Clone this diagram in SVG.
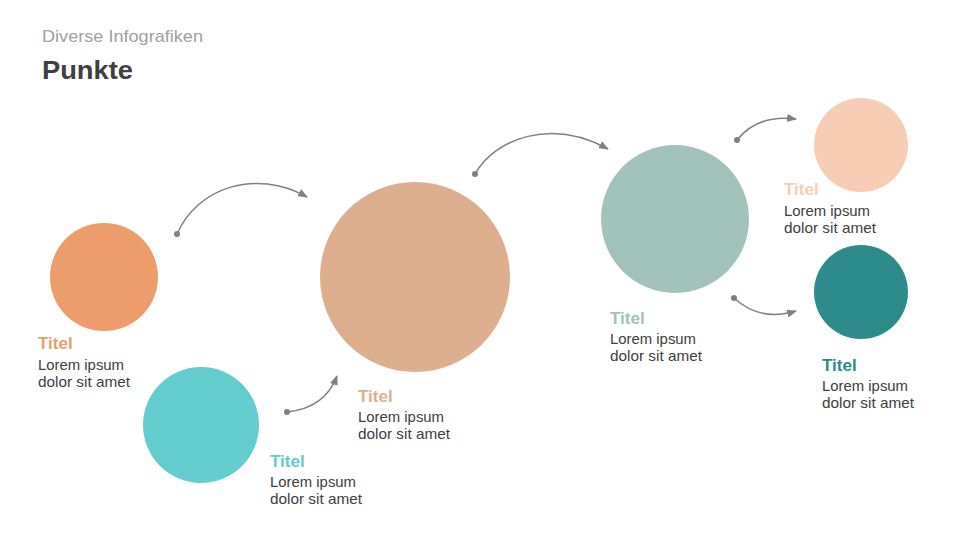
<svg xmlns="http://www.w3.org/2000/svg" width="960" height="540" viewBox="0 0 960 540">
<defs>
<marker id="ah" markerUnits="userSpaceOnUse" markerWidth="10" markerHeight="8" refX="9" refY="4" orient="auto">
<path d="M0,0 L10,4 L0,8 Z" fill="#808080"/>
</marker>
<style>
.t{font-family:"Liberation Sans",Arial,sans-serif;font-weight:bold;font-size:17px}
.b{font-family:"Liberation Sans",Arial,sans-serif;font-size:14.5px;fill:#404040}
.c{fill:none;stroke:#808080;stroke-width:1.5;marker-end:url(#ah)}
.d{fill:#808080}
</style>
</defs>
<rect width="960" height="540" fill="#ffffff"/>
<text x="42" y="42" font-family="'Liberation Sans',Arial,sans-serif" font-size="16.5" fill="#a0a0a0" textLength="161" lengthAdjust="spacingAndGlyphs">Diverse Infografiken</text>
<text x="42" y="79" font-family="'Liberation Sans',Arial,sans-serif" font-size="25" font-weight="bold" fill="#404040" textLength="91" lengthAdjust="spacingAndGlyphs">Punkte</text>
<g id="connectors">
<path class="c" d="M177,234 C197,188 255,168 307,197"/><circle class="d" cx="177" cy="234" r="3"/>
<path class="c" d="M287,412 Q325,408 337,376"/><circle class="d" cx="287" cy="412" r="3"/>
<path class="c" d="M475,174 C495,138 552,118 608,149"/><circle class="d" cx="475" cy="174" r="3"/>
<path class="c" d="M737,140 Q758,114 796,119"/><circle class="d" cx="737" cy="140" r="3"/>
<path class="c" d="M734,298 Q760,322 796,311"/><circle class="d" cx="734" cy="298" r="3"/>
</g>
<g id="node1">
<circle cx="104" cy="277" r="54" fill="#ED9C6C"/>
<text class="t" x="38" y="349" fill="#ED9C6C">Titel</text>
<text class="b" x="38" y="370" textLength="86" lengthAdjust="spacingAndGlyphs">Lorem ipsum</text>
<text class="b" x="38" y="387" textLength="92" lengthAdjust="spacingAndGlyphs">dolor sit amet</text>
</g>
<g id="node2">
<circle cx="201" cy="425" r="58" fill="#63CDCD"/>
<text class="t" x="270" y="467" fill="#63CDCD">Titel</text>
<text class="b" x="270" y="487" textLength="86" lengthAdjust="spacingAndGlyphs">Lorem ipsum</text>
<text class="b" x="270" y="504" textLength="92" lengthAdjust="spacingAndGlyphs">dolor sit amet</text>
</g>
<g id="node3">
<circle cx="415" cy="277" r="95" fill="#DDAF8E"/>
<text class="t" x="358" y="402" fill="#DDAF8E">Titel</text>
<text class="b" x="358" y="422" textLength="86" lengthAdjust="spacingAndGlyphs">Lorem ipsum</text>
<text class="b" x="358" y="439" textLength="92" lengthAdjust="spacingAndGlyphs">dolor sit amet</text>
</g>
<g id="node4">
<circle cx="675" cy="219" r="74" fill="#A1C3BB"/>
<text class="t" x="610" y="324" fill="#A1C3BB">Titel</text>
<text class="b" x="610" y="344" textLength="86" lengthAdjust="spacingAndGlyphs">Lorem ipsum</text>
<text class="b" x="610" y="361" textLength="92" lengthAdjust="spacingAndGlyphs">dolor sit amet</text>
</g>
<g id="node5">
<circle cx="861" cy="145" r="47" fill="#F7CDB5"/>
<text class="t" x="784" y="195" fill="#F7CDB5">Titel</text>
<text class="b" x="784" y="216" textLength="86" lengthAdjust="spacingAndGlyphs">Lorem ipsum</text>
<text class="b" x="784" y="233" textLength="92" lengthAdjust="spacingAndGlyphs">dolor sit amet</text>
</g>
<g id="node6">
<circle cx="861" cy="292" r="47" fill="#2E8B8B"/>
<text class="t" x="822" y="371" fill="#2E8B8B">Titel</text>
<text class="b" x="822" y="391" textLength="86" lengthAdjust="spacingAndGlyphs">Lorem ipsum</text>
<text class="b" x="822" y="408" textLength="92" lengthAdjust="spacingAndGlyphs">dolor sit amet</text>
</g>
</svg>
